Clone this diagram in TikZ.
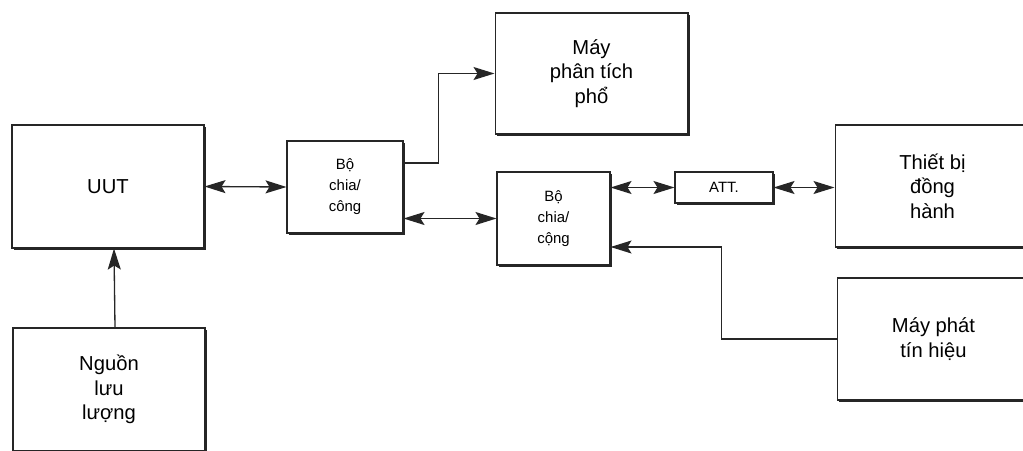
\documentclass[tikz,border=0pt]{standalone}
\usepackage{fontspec}
\setmainfont{Liberation Sans}
\usetikzlibrary{arrows.meta,shadows}

\begin{document}
\begin{tikzpicture}[x=0.02cm,y=-0.02cm,
  every text node part/.style={align=center},
  block/.style={draw=black!85,line width=0.6pt,fill=white,inner sep=0pt,
    drop shadow={shadow xshift=0.045cm,shadow yshift=-0.045cm,opacity=1,fill=black!85},
    font=\fontsize{11.5}{14}\selectfont},
  small/.style={block,font=\fontsize{8.5}{12}\selectfont},
  tip/.style={Stealth[length=0.42cm,width=0.26cm,inset=0.08cm]},
  link/.style={line width=0.75pt,draw=black!85},
  twoway/.style={link,{Stealth[length=0.42cm,width=0.26cm,inset=0.08cm]}-{Stealth[length=0.42cm,width=0.26cm,inset=0.08cm]}},
  oneway/.style={link,-{Stealth[length=0.42cm,width=0.26cm,inset=0.08cm]}}]
\useasboundingbox (0,0) rectangle (1023,450);
% blocks
\node [block,minimum width=3.84cm,minimum height=2.46cm] (uut) at (108,186.5) {UUT};
\node [block,minimum width=3.84cm,minimum height=2.46cm] (nguon) at (109,389.5) {Nguồn\\lưu\\lượng};
\node [small,minimum width=2.32cm,minimum height=1.84cm] (bo1) at (345,187) {Bộ\\chia/\\công};
\node [block,minimum width=3.86cm,minimum height=2.42cm] (mpt) at (591.5,73.5) {Máy\\phân tích\\phổ};
\node [small,minimum width=2.26cm,minimum height=1.86cm] (bo2) at (553.5,218.5) {Bộ\\chia/\\cộng};
\node [small,minimum width=1.96cm,minimum height=0.62cm] (att) at (724,187.5) {ATT.};
\node [block,minimum width=3.9cm,minimum height=2.44cm] (tb) at (932.5,186) {Thiết bị\\đồng\\hành};
\node [block,minimum width=3.86cm,minimum height=2.44cm] (mp) at (933.5,339) {Máy phát\\tín hiệu};
% links
\draw [oneway] ([xshift=0.12cm]nguon.north) -- ([xshift=0.12cm]uut.south);
\draw [twoway] (uut.east) -- (bo1.west);
\draw [oneway] ([yshift=0.48cm]bo1.east) -- ++(35,0) |- (mpt.west);
\draw [twoway] (bo1.east |- bo2.west) -- (bo2.west);
\draw [twoway] (bo2.east |- att.west) -- (att.west);
\draw [twoway] (att.east) -- (tb.west |- att.east);
\draw [oneway] (mp.west) -- ++(-115,0) |- ([yshift=-0.57cm]bo2.east);
\end{tikzpicture}
\end{document}
